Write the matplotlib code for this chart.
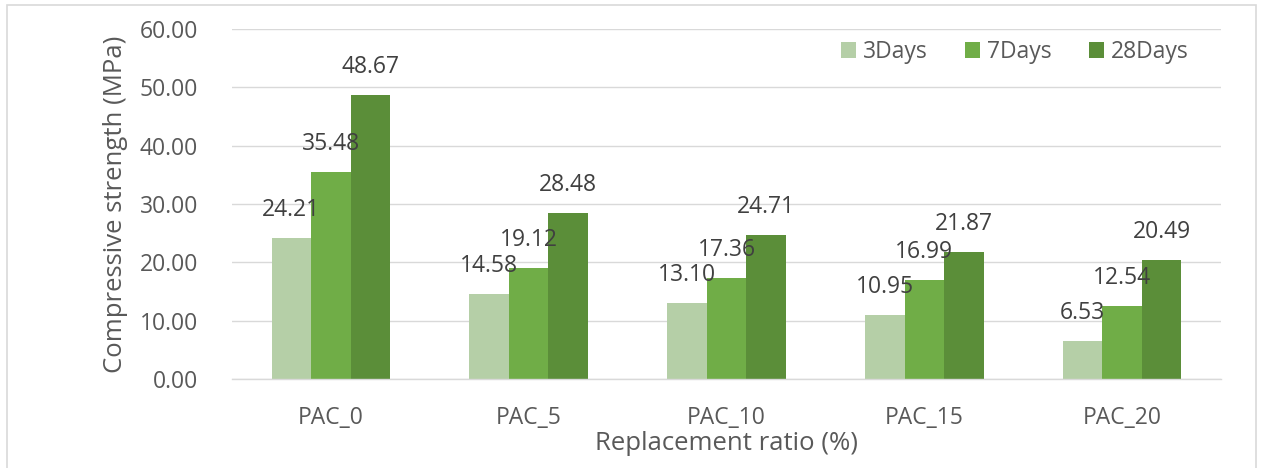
import matplotlib.pyplot as plt
import numpy as np
from matplotlib.patches import Rectangle

# data
categories = ['PAC_0', 'PAC_5', 'PAC_10', 'PAC_15', 'PAC_20']
days_3 = [24.21, 14.58, 13.10, 10.95, 6.53]
days_7 = [35.48, 19.12, 17.36, 16.99, 12.54]
days_28 = [48.67, 28.48, 24.71, 21.87, 20.49]
series_names = ['3Days', '7Days', '28Days']
colors = ['#B5CFA7', '#70AD47', '#5B8E39']

plt.rcParams['font.family'] = ['Open Sans', 'DejaVu Sans']
text_color = '#595959'
grid_color = '#D9D9D9'

W, H = 1261, 468
fig = plt.figure(figsize=(W / 100, H / 100), dpi=100)
ax = fig.add_axes([232 / W, 1 - 379.3 / H, (1221 - 232) / W, (379.3 - 28.7) / H])

# outer chart border
fig.patches.append(Rectangle((7 / W, -0.05), (1256 - 7) / W, 1.05 - 5 / H,
                             transform=fig.transFigure, fill=False,
                             edgecolor=grid_color, linewidth=1.2))

x = np.arange(len(categories))
width = 0.2
for i, (vals, name, col) in enumerate(zip([days_3, days_7, days_28], series_names, colors)):
    pos = x + (i - 1) * width
    ax.bar(pos, vals, width, color=col, label=name, zorder=3)
    for px, v in zip(pos, vals):
        ax.annotate(f'{v:.2f}', (px, v), xytext=(0, 15.8), textcoords='offset points',
                    ha='center', va='baseline', fontsize=16.5, color='#404040', zorder=4)

ax.set_xlim(-0.5, len(categories) - 0.5)
ax.set_ylim(0, 60)
ax.set_yticks(np.arange(0, 61, 10))
ax.set_yticklabels([f'{t:.2f}' for t in np.arange(0, 61, 10)])
ax.set_xticks(x)
ax.set_xticklabels(categories)

ax.tick_params(axis='y', length=0, pad=24.5, labelsize=16.5, labelcolor=text_color)
ax.tick_params(axis='x', length=0, pad=19.5, labelsize=16.5, labelcolor=text_color)
ax.grid(axis='y', color=grid_color, linewidth=1.0, zorder=0)
ax.set_axisbelow(True)
for s in ['top', 'right', 'left']:
    ax.spines[s].set_visible(False)
ax.spines['bottom'].set_color(grid_color)
ax.spines['bottom'].set_linewidth(1.0)
ax.spines['bottom'].set_zorder(5)

ax.set_ylabel('Compressive strength (MPa)', fontsize=18.5, color=text_color)
ax.yaxis.set_label_coords(-0.105, 0.5)
ax.set_xlabel('Replacement ratio (%)', fontsize=18.5, color=text_color)
ax.xaxis.set_label_coords(0.5, -0.1475)

leg = ax.legend(loc='center right', bbox_to_anchor=(1189 / W, 1 - 52 / H),
                bbox_transform=fig.transFigure, ncol=3, frameon=False, fontsize=16.5,
                handlelength=0.65, handleheight=0.65, handletextpad=0.3,
                columnspacing=1.65, borderpad=0, borderaxespad=0)
for t in leg.get_texts():
    t.set_color(text_color)

fig.savefig('out.png', dpi=100)
